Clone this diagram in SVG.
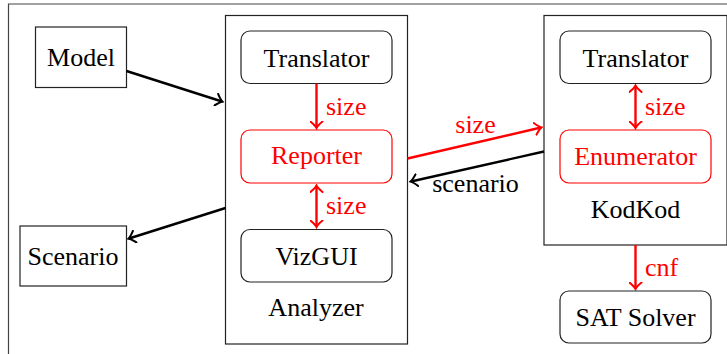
<svg xmlns="http://www.w3.org/2000/svg" width="727" height="354" viewBox="0 0 727 354">
<style>
text{font-family:"Liberation Serif","Times New Roman",serif;font-size:26px;fill:#000;text-anchor:middle}
.lbl{text-anchor:start}
.red{fill:#ff0000}
.box{fill:#fff;stroke:#222;stroke-width:1.2}
.rbox{fill:#fff;stroke:#ff0000;stroke-width:1.2}
.blk{stroke:#000;stroke-width:2.4;fill:none}
.rl{stroke:#ff0000;stroke-width:2.4;fill:none}
</style>
<defs>
<marker id="ah" viewBox="-7 -7 9 14" markerWidth="9" markerHeight="14" refX="0" refY="0" orient="auto-start-reverse" markerUnits="userSpaceOnUse">
<path d="M-6,-6 Q-2,-1.2 0.5,0 Q-2,1.2 -6,6" fill="none" stroke="#000" stroke-width="2" stroke-linecap="round"/>
</marker>
<marker id="ahr" viewBox="-7 -7 9 14" markerWidth="9" markerHeight="14" refX="0" refY="0" orient="auto-start-reverse" markerUnits="userSpaceOnUse">
<path d="M-6,-6 Q-2,-1.2 0.5,0 Q-2,1.2 -6,6" fill="none" stroke="#ff0000" stroke-width="2" stroke-linecap="round"/>
</marker>
</defs>
<rect width="727" height="354" fill="#fff"/>
<path d="M8.5,354 V4 H727" fill="none" stroke="#444" stroke-width="1.2"/>

<g id="analyzer">
<rect class="box" x="225.5" y="15.5" width="182" height="328.5"/>
<text x="316" y="316">Analyzer</text>
</g>
<g id="kodkod">
<rect class="box" x="544" y="15.5" width="183" height="229.5"/>
<text x="635.5" y="218">KodKod</text>
</g>
<g id="model">
<rect class="box" x="35.5" y="27" width="91" height="60.5"/>
<text x="81" y="66">Model</text>
</g>
<g id="scenario">
<rect class="box" x="20" y="226" width="106.5" height="60"/>
<text x="73" y="265">Scenario</text>
</g>
<g id="translator-a">
<rect class="box" x="241" y="31" width="151" height="52.5" rx="9"/>
<text x="316.5" y="67">Translator</text>
</g>
<g id="reporter">
<rect class="rbox" x="241" y="130" width="151" height="53" rx="9"/>
<text class="red" x="316.5" y="164">Reporter</text>
</g>
<g id="vizgui">
<rect class="box" x="241" y="229.5" width="151" height="52.5" rx="9"/>
<text x="316.5" y="265">VizGUI</text>
</g>
<g id="translator-k">
<rect class="box" x="560" y="31" width="151" height="52.5" rx="9"/>
<text x="635.5" y="67">Translator</text>
</g>
<g id="enumerator">
<rect class="rbox" x="560" y="130" width="151" height="53" rx="9"/>
<text class="red" x="635.5" y="165">Enumerator</text>
</g>
<g id="satsolver">
<rect class="box" x="560" y="291" width="151" height="52" rx="9"/>
<text x="635.5" y="326">SAT Solver</text>
</g>

<g id="connectors">
<line class="blk" x1="126.5" y1="71" x2="222" y2="101.5" marker-end="url(#ah)"/>
<line class="blk" x1="225.5" y1="208" x2="129" y2="238.5" marker-end="url(#ah)"/>
<line class="rl" x1="316.5" y1="83.5" x2="316.5" y2="127.5" marker-end="url(#ahr)"/>
<line class="rl" x1="316.5" y1="186" x2="316.5" y2="226.5" marker-start="url(#ahr)" marker-end="url(#ahr)"/>
<line class="rl" x1="635.5" y1="86" x2="635.5" y2="127.5" marker-start="url(#ahr)" marker-end="url(#ahr)"/>
<line class="rl" x1="635.5" y1="245" x2="635.5" y2="288.5" marker-end="url(#ahr)"/>
<line class="rl" x1="407.5" y1="158.5" x2="541" y2="127.5" marker-end="url(#ahr)"/>
<line class="blk" x1="544" y1="151.5" x2="411" y2="181.5" marker-end="url(#ah)"/>
<text class="red lbl" x="326" y="115">size</text>
<text class="red lbl" x="326" y="214">size</text>
<text class="red lbl" x="645" y="115">size</text>
<text class="red lbl" x="645" y="276">cnf</text>
<text class="red" x="475.5" y="133">size</text>
<text x="475.5" y="192">scenario</text>
</g>
</svg>
